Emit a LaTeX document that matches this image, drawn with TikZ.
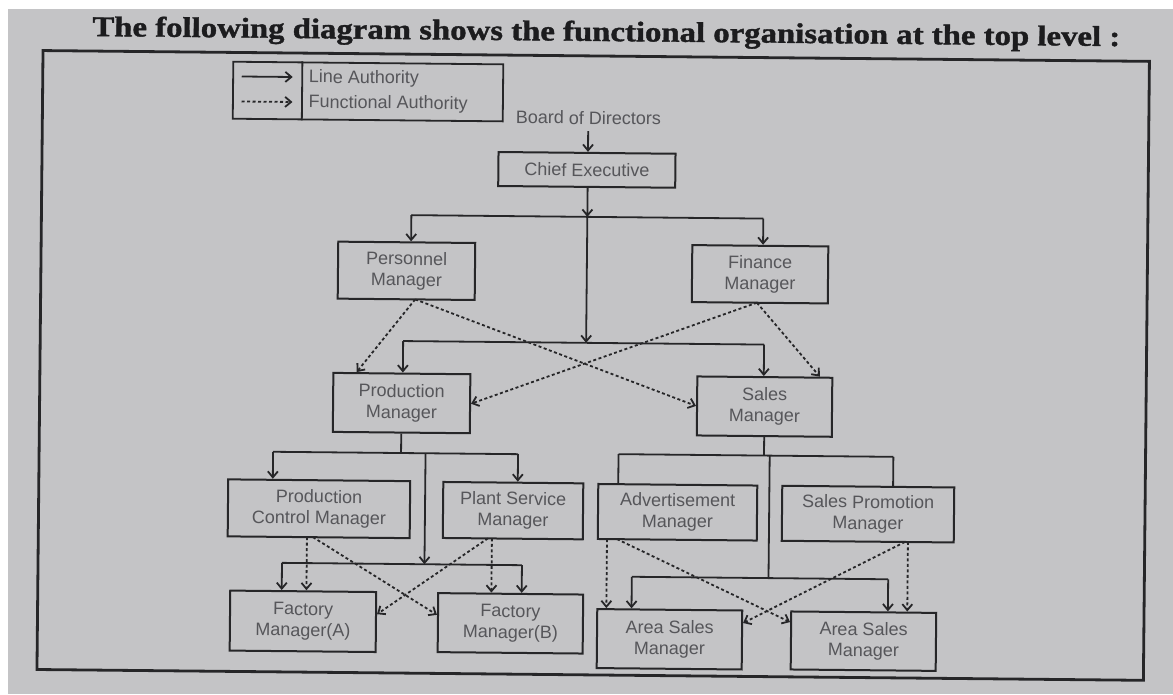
\documentclass[tikz,border=0pt]{standalone}
\usepackage{fontspec}
\setmainfont{Liberation Sans}
\newfontfamily\headfont{Liberation Serif}[BoldFeatures={FakeBold=1.2}]
\usetikzlibrary{arrows.meta,calc}

\definecolor{paper}{RGB}{196,196,198}
\definecolor{ink}{RGB}{38,38,40}
\definecolor{label}{RGB}{86,86,90}
\definecolor{headink}{RGB}{28,28,30}

\begin{document}
\begin{tikzpicture}[x=1pt,y=-1pt,
  post/.style={draw=ink, line width=2pt, text=label, align=center, inner sep=0pt,
               font=\fontsize{18}{21}\selectfont},
  dims/.style 2 args={minimum width=#1pt, minimum height=#2pt},
  wire/.style={draw=ink, line width=1.8pt},
  lineauth/.style={wire, -{Straight Barb[length=6pt,width=10pt]}},
  funcauth/.style={lineauth, dash pattern=on 3pt off 2.5pt},
  legtext/.style={text=label, inner sep=0pt, anchor=west, font=\fontsize{18}{21}\selectfont}]

% page
\fill[white] (0,0) rectangle (1173,694);
\fill[paper] (8,9) rectangle (1173,694);
\useasboundingbox (0,0) rectangle (1173,694);

\begin{scope}[rotate around={-0.56:(600,360)}, transform shape]

% heading
\node[anchor=base west, inner sep=0pt, text=headink] (head) at (89,41)
  {\headfont\bfseries\fontsize{28.5}{30}\selectfont\scalebox{1.15}[1]{The following diagram shows the functional organisation at the top level :}};

% outer frame
\draw[ink, line width=2.8pt] (40,56) rectangle (1146.5,675);

% legend
\node[draw=ink, line width=1.8pt, dims={270}{57}, inner sep=0pt] (legend) at (365.4,93.8) {};
\draw[wire] ($(legend.north west)+(70,0)$) -- ($(legend.south west)+(70,0)$);
\coordinate (la1) at (239,80);  \coordinate (la2) at (290,80);
\coordinate (lb1) at (239,105); \coordinate (lb2) at (290,105);
\draw[lineauth] (la1) -- (la2);
\draw[funcauth] (lb1) -- (lb2);
\node[legtext] (lt1) at (306,81) {Line Authority};
\node[legtext] (lt2) at (306,106) {Functional Authority};

% boxes
\node[text=label, font=\fontsize{18}{21}\selectfont] (bod) at (586,118) {Board of Directors};
\node[post, dims={177}{34}] (chief) at (585,170) {Chief Executive};
\node[post, dims={137}{57}] (pers) at (405.6,272.7) {Personnel\\Manager};
\node[post, dims={136}{57}] (fin) at (759.2,272.7) {Finance\\Manager};
\node[post, dims={137}{59}] (prod) at (402,405) {Production\\Manager};
\node[post, dims={135}{59}] (sales) at (765,405) {Sales\\Manager};
\node[post, dims={182}{57}] (pcm) at (320.4,511.5) {Production\\Control Manager};
\node[post, dims={140}{56}] (psm) at (514.5,511.5) {Plant Service\\Manager};
\node[post, dims={159}{55}] (adv) at (679,511.5) {Advertisement\\Manager};
\node[post, dims={172}{55}] (spm) at (869.5,511.5) {Sales Promotion\\Manager};
\node[post, dims={146}{60}] (fa) at (305.5,624.2) {Factory\\Manager(A)};
\node[post, dims={145}{59}] (fb) at (513,624.2) {Factory\\Manager(B)};
\node[post, dims={145}{59}] (asma) at (672.2,638.6) {Area Sales\\Manager};
\node[post, dims={145}{58}] (asmb) at (866.2,638.6) {Area Sales\\Manager};

% line authority: top
\draw[lineauth, shorten <=3pt] (bod.south) -- (bod.south |- chief.north);
\coordinate (s1) at (586,217);
\coordinate (s2) at (586,343);
\draw[lineauth] (chief.south -| s1) -- (s1);
\draw[lineauth] (s1) -- (s2);
\coordinate (b1l) at (410,217); \coordinate (b1r) at (762,217);
\draw[wire] (b1l) -- (b1r);
\draw[lineauth] (b1l) -- (b1l |- pers.north);
\draw[lineauth] (b1r) -- (b1r |- fin.north);
\coordinate (b2l) at (403,343); \coordinate (b2r) at (764,343);
\draw[wire] (b2l) -- (b2r);
\draw[lineauth] (b2l) -- (b2l |- prod.north);
\draw[lineauth] (b2r) -- (b2r |- sales.north);

% functional authority: staff managers
\coordinate (pd) at (414.6,301.2);
\coordinate (fd) at (756.4,301.2);
\draw[funcauth] (pd) -- (prod.146.2);
\draw[funcauth] (pd) -- (sales.west);
\draw[funcauth] (fd) -- (sales.29.6);
\draw[funcauth] (fd) -- (prod.east);

% line authority: production side
\coordinate (b3l) at (274,455); \coordinate (b3r) at (519,455);
\draw[wire] (prod.south) -- (prod.south |- b3l);
\draw[wire] (b3l) -- (b3r);
\draw[lineauth] (b3l) -- (b3l |- pcm.north);
\draw[lineauth] (b3r) -- (b3r |- psm.north);
\coordinate (v3t) at (426.5,455); \coordinate (v3b) at (426.5,566);
\draw[lineauth] (v3t) -- (v3b);
\coordinate (b4l) at (284,566); \coordinate (b4r) at (524,566);
\draw[wire] (b4l) -- (b4r);
\draw[lineauth] (b4l) -- (b4l |- fa.north);
\draw[lineauth] (b4r) -- (b4r |- fb.north);

% line authority: sales side
\coordinate (b5l) at (619.5,454); \coordinate (b5r) at (894.4,454);
\draw[wire] (sales.south) -- (sales.south |- b5l);
\draw[wire] (b5l) -- (b5r);
\draw[wire] (b5l) -- (b5l |- adv.north);
\draw[wire] (b5r) -- (b5r |- spm.north);
\coordinate (v5t) at (770.7,454); \coordinate (v5b) at (770.7,576.5);
\draw[wire] (v5t) -- (v5b);
\coordinate (b6l) at (634,576.5); \coordinate (b6r) at (890.4,576.5);
\draw[wire] (b6l) -- (b6r);
\draw[lineauth] (b6l) -- (b6l |- asma.north);
\draw[lineauth] (b6r) -- (b6r |- asmb.north);

% functional authority: production staff
\coordinate (pcmA) at (308.7,540);
\coordinate (pcmB) at (314.7,540);
\coordinate (psmB) at (493.7,539.5);
\coordinate (psmA) at (489.7,539.5);
\draw[funcauth] (pcmA) -- (pcmA |- fa.north);
\draw[funcauth] (pcmB) -- (fb.174.5);
\draw[funcauth] (psmB) -- (psmB |- fb.north);
\draw[funcauth] (psmA) -- (fa.6.3);

% functional authority: sales staff
\coordinate (advA) at (608.8,539);
\coordinate (advB) at (618.8,539);
\coordinate (spmB) at (909.8,539);
\coordinate (spmA) at (906.8,539);
\draw[funcauth] (advA) -- (advA |- asma.north);
\draw[funcauth] (advB) -- (asmb.166.8);
\draw[funcauth] (spmB) -- (spmB |- asmb.north);
\draw[funcauth] (spmA) -- (asma.13.9);

\end{scope}
\end{tikzpicture}
\end{document}
